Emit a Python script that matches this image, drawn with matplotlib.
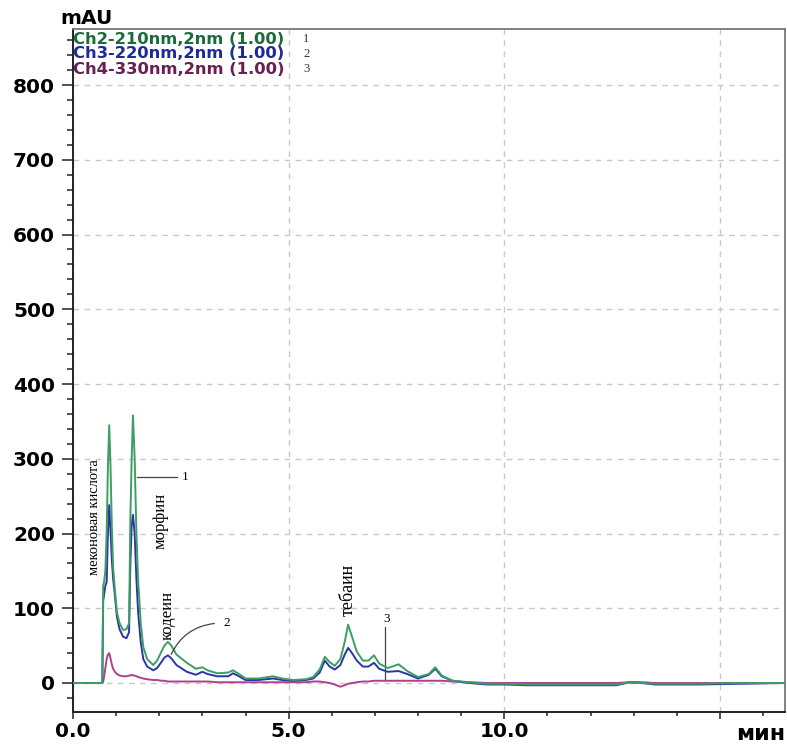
import matplotlib.pyplot as plt
from matplotlib.ticker import MultipleLocator, FixedLocator

# retention time, min (shared by all three channels)
time_min = [0.0, 0.68, 0.70, 0.72, 0.75, 0.78, 0.81, 0.84, 0.87, 0.90,
            0.93, 0.97, 1.02, 1.08, 1.16, 1.24, 1.30, 1.33, 1.36, 1.39,
            1.43, 1.47, 1.51, 1.57, 1.63, 1.72, 1.86, 1.95, 2.05, 2.12,
            2.20, 2.28, 2.40, 2.64, 2.85, 3.00, 3.12, 3.34, 3.60, 3.71,
            3.85, 4.00, 4.30, 4.64, 4.85, 5.10, 5.40, 5.57, 5.72, 5.84,
            5.95, 6.07, 6.20, 6.30, 6.38, 6.47, 6.58, 6.72, 6.85, 6.98,
            7.10, 7.30, 7.55, 7.75, 8.00, 8.25, 8.40, 8.55, 8.80, 9.20,
            9.60, 10.00, 10.50, 11.50, 12.60, 12.90, 13.20, 13.50, 14.50, 15.50,
            16.50]

# Ch2-210nm
ch2 = [0, 0, 130, 135, 150, 200, 290, 345, 290, 210,
       155, 125, 94, 80, 71, 72, 80, 220, 300, 358,
       300, 200, 138, 80, 48, 32, 24, 30, 42, 50,
       55, 50, 38, 27, 19, 21, 17, 13, 14, 17,
       12, 6, 6, 9, 6, 4, 5, 8, 18, 35,
       28, 23, 32, 55, 78, 62, 42, 30, 30, 37,
       26, 20, 25, 16, 8, 12, 21, 10, 3, 1,
       -1, -1, -2, -2, -2, 1, 0, -1, -1, 0,
       0]

# Ch3-220nm
ch3 = [0, 0, 110, 118, 130, 135, 200, 238, 205, 165,
       140, 118, 88, 72, 62, 60, 68, 160, 210, 225,
       200, 140, 95, 55, 32, 22, 17, 20, 28, 34,
       37, 33, 24, 15, 11, 15, 12, 9, 9, 13,
       9, 4, 4, 6, 4, 3, 4, 6, 14, 30,
       22, 18, 24, 38, 47, 40, 30, 22, 22, 27,
       19, 15, 16, 12, 6, 11, 19, 9, 3, 0,
       -2, -2, -3, -3, -3, 1, 0, -2, -2, -1,
       0]

# Ch4-330nm
ch4 = [0, 0, 2, 8, 20, 32, 38, 40, 33, 25,
       19, 15, 12, 10, 9, 9, 10, 10, 11, 10,
       10, 9, 8, 7, 6, 5, 4, 4, 3, 3,
       2, 2, 2, 2, 2, 2, 2, 1, 1, 1,
       1, 1, 1, 1, 1, 1, 1, 2, 2, 1,
       0, -2, -5, -3, -1, 0, 1, 2, 2, 3,
       3, 3, 3, 3, 3, 3, 3, 3, 2, 1,
       0, 0, 0, 0, 0, 1, 1, 0, 0, 0,
       0]

channel_names = ["Ch2-210nm,2nm (1.00)", "Ch3-220nm,2nm (1.00)", "Ch4-330nm,2nm (1.00)"]
line_colors = ["#3c9e62", "#2a36a8", "#b0408e"]
text_colors = ["#1d6a3c", "#1e2a9a", "#6a1e52"]

x_ticks = [0, 5, 10, 15]
x_labels = ["0.0", "5.0", "10.0", ""]

fig = plt.figure(figsize=(7.87, 7.47), dpi=100)
ax = fig.add_axes([73 / 787, 35 / 747, 712 / 787, 683 / 747])

for y, c in zip([ch4, ch3, ch2], [line_colors[2], line_colors[1], line_colors[0]]):
    ax.plot(time_min, y, color=c, lw=1.4, zorder=3)

ax.set_xlim(0, 16.51)
ax.set_ylim(-38.8, 875)

ax.xaxis.set_major_locator(FixedLocator(x_ticks))
ax.xaxis.set_minor_locator(MultipleLocator(1))
ax.set_xticklabels(x_labels)
ax.set_yticks(range(0, 801, 100))
ax.yaxis.set_minor_locator(MultipleLocator(20))

for lab in ax.get_xticklabels() + ax.get_yticklabels():
    lab.set_family("DejaVu Sans")
    lab.set_fontweight("bold")
    lab.set_fontsize(14.5)

ax.tick_params(axis="y", which="major", direction="out", length=7.9, width=1.2,
               colors="#333333", labelcolor="black", pad=5)
ax.tick_params(axis="y", which="minor", direction="out", length=4.3, width=1.2, colors="#333333")
ax.tick_params(axis="x", which="major", direction="out", length=5, width=1.2,
               colors="#333333", labelcolor="black", pad=2)
ax.tick_params(axis="x", which="minor", direction="out", length=3.2, width=1.2, colors="#333333")

ax.grid(True, which="major", color="#c8c8c8", ls=(0, (4, 4)), lw=1.0, zorder=1)

for side in ["left", "bottom"]:
    ax.spines[side].set_color("#222222")
    ax.spines[side].set_linewidth(1.4)
for side in ["top", "right"]:
    ax.spines[side].set_color("#777777")
    ax.spines[side].set_linewidth(1.3)

# axis captions
fig.text(60 / 787, 1 - 24 / 747, "mAU", fontsize=14.5, fontweight="bold", family="DejaVu Sans")
fig.text(785 / 787, 1 - 740 / 747, "мин", fontsize=16, fontweight="bold", family="DejaVu Sans",
         ha="right")

# channel legend
for i, (name, tc) in enumerate(zip(channel_names, text_colors)):
    yy = 1 - (39 + 15 * i) / 747
    fig.text(73 / 787, yy, name, color=tc, fontsize=11.8, fontweight="bold",
             family="DejaVu Sans", va="center")
    fig.text(303 / 787, yy, str(i + 1), color="#333333", fontsize=9,
             family="Liberation Serif", va="center")

# compound names
ax.text(0.51, 222, "меконовая кислота", family="Liberation Serif", rotation=90,
        ha="center", va="center", fontsize=10.5)
ax.text(2.02, 217, "морфин", family="Liberation Serif", rotation=90,
        ha="center", va="center", fontsize=12)
ax.text(2.20, 91, "кодеин", family="Liberation Serif", rotation=90,
        ha="center", va="center", fontsize=12)
ax.text(6.38, 124, "тебаин", family="Liberation Serif", rotation=90,
        ha="center", va="center", fontsize=13)

# channel callouts
ax.plot([1.48, 2.41], [276, 276], color="#444444", lw=0.9)
ax.text(2.60, 276, "1", family="Liberation Serif", fontsize=9.5, va="center", ha="center")
ax.annotate("", xy=(2.25, 35), xytext=(3.34, 80),
            arrowprops=dict(arrowstyle="-", color="#444444", lw=0.9,
                            connectionstyle="arc3,rad=0.3"))
ax.text(3.57, 80, "2", family="Liberation Serif", fontsize=9.5, va="center", ha="center")
ax.plot([7.23, 7.23], [4, 75], color="#444444", lw=0.9)
ax.text(7.28, 86, "3", family="Liberation Serif", fontsize=9.5, va="center", ha="center")

fig.savefig("out.png", dpi=100)
